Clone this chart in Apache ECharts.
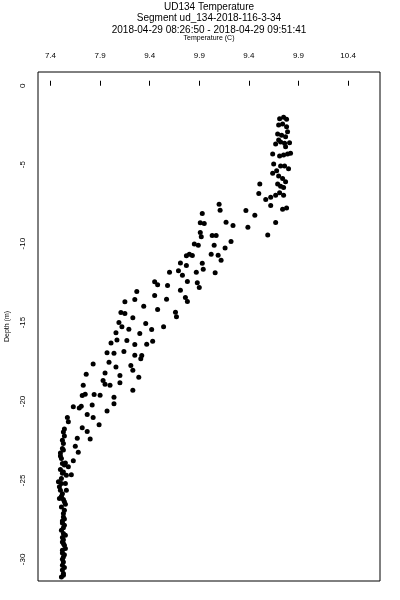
<!DOCTYPE html>
<html>
<head>
<meta charset="utf-8">
<script src="https://cdn.jsdelivr.net/npm/echarts@6/dist/echarts.min.js"></script>
<style>html,body{margin:0;padding:0;background:#fff}#c{width:400px;height:600px}</style>
</head>
<body>
<div id="c"></div>
<script>
var titleLines = ['UD134 Temperature', 'Segment ud_134-2018-116-3-34', '2018-04-29 08:26:50 - 2018-04-29 09:51:41'];
var xName = 'Temperature (C)';
var yName = 'Depth (m)';
var xTickValues = [7.4, 7.9, 8.4, 8.9, 9.4, 9.9, 10.4];
var xTickLabels = ['7.4', '7.9', '9.4', '9.9', '9.4', '9.9', '10.4'];
var yTickValues = [0, -5, -10, -15, -20, -25, -30];
var xRange = [7.274, 10.722];
var yRange = [-31.37, 0.87];

var temperature = [
9.71,9.75,9.78,9.70,9.74,9.78,9.79,9.69,9.73,9.77,9.70,9.67,9.72,9.76,9.81,9.77,9.64,9.71,9.75,9.79,9.82,
9.65,9.72,9.76,9.80,9.68,9.64,9.70,9.74,9.77,9.69,9.72,9.75,9.51,9.50,9.57,9.62,9.67,9.71,9.75,9.62,9.74,9.78,
9.37,9.46,9.67,9.39,9.59,
9.10,9.11,8.93,8.91,8.95,9.17,9.24,8.91,8.92,9.03,9.07,9.22,8.85,8.89,9.05,9.16,8.77,8.80,8.83,9.02,9.09,9.12,
8.71,8.77,8.93,8.94,9.06,8.60,8.69,8.73,8.87,8.45,8.48,8.58,8.78,8.88,8.90,8.71,8.45,8.57,8.76,8.78,8.48,8.66,8.67,8.54,8.42,
8.27,8.15,8.25,8.34,8.11,8.15,8.23,8.09,8.12,8.19,8.36,8.30,8.06,8.07,8.17,8.25,8.37,8.43,8.01,7.97,8.04,8.14,8.25,8.32,8.31,
7.83,7.99,8.21,8.23,8.06,7.95,8.10,8.29,7.76,7.93,7.95,8.00,8.10,7.73,8.23,7.72,7.75,7.84,7.90,8.04,8.04,7.82,7.63,7.69,7.71,
7.97,7.77,7.83,7.57,7.58,7.89,7.54,7.72,7.77,7.54,7.67,7.80,7.53,
7.65,7.68,7.53,7.52,7.50,7.51,7.55,7.52,7.63,7.58,7.50,7.53,7.56,7.61,7.51,7.48,7.51,7.55,7.50,7.56,7.49,7.53,7.55,7.51,7.54,
7.53,7.52,7.54,7.51,7.53,7.55,7.52,7.54,7.52,7.55,7.53,7.53,7.52,7.53,7.51,
7.52,7.53,7.50,7.54,7.52,7.49,7.52,7.51,7.54,7.53,7.54,7.52,7.53,7.52,7.53,7.53,7.52,7.54,7.52,7.54,7.52,7.53
];
var depth = [
-2.09,-2.00,-2.13,-2.49,-2.43,-2.60,-2.92,-3.06,-3.14,-3.23,-3.44,-3.69,-3.57,-3.65,-3.61,-3.87,-4.33,-4.45,-4.39,-4.33,-4.28,
-4.96,-5.09,-5.09,-5.26,-5.39,-5.55,-5.72,-5.87,-6.08,-6.23,-6.36,-6.44,-6.23,-6.83,-7.20,-7.07,-6.93,-6.78,-6.93,-7.58,-7.83,-7.75,
-7.90,-8.21,-8.66,-8.97,-9.45,
-7.50,-7.88,-8.09,-8.68,-8.72,-8.64,-8.85,-9.29,-9.57,-9.48,-9.48,-9.86,-10.03,-10.11,-10.11,-10.27,-10.77,-10.67,-10.75,-10.67,-10.73,-11.05,
-11.22,-11.38,-11.24,-11.63,-11.85,-11.81,-11.72,-12.01,-11.82,-12.42,-12.61,-12.65,-12.40,-12.48,-12.78,-12.95,-13.28,-13.52,-13.41,-13.66,-14.17,-14.34,-14.63,-15.27,-15.44,
-13.03,-13.69,-13.54,-13.96,-14.36,-14.42,-14.70,-14.99,-15.27,-15.42,-15.06,-15.69,-15.65,-16.11,-16.13,-16.39,-16.37,-16.18,-16.29,-16.92,-16.94,-16.83,-17.07,-17.08,-17.30,
-17.62,-17.51,-17.72,-18.02,-17.81,-18.19,-18.35,-18.46,-18.27,-18.67,-18.90,-18.97,-18.82,-18.97,-19.28,-19.62,-19.54,-19.56,-19.60,-19.73,-20.15,-20.23,-20.34,-20.42,-20.30,
-20.61,-20.82,-21.01,-21.01,-21.29,-21.48,-21.74,-21.67,-21.90,-22.18,-22.33,-22.37,-21.93,
-22.83,-23.21,-22.66,-22.98,-23.26,-23.61,-23.89,-23.93,-23.76,-24.14,-24.31,-24.46,-24.67,-24.64,-24.88,-25.09,-25.20,-25.20,-25.62,-25.62,-26.15,-26.21,-26.51,-26.68,-26.89,
-27.31,-27.57,-27.84,-28.16,-28.36,-28.47,-28.90,-29.11,-29.42,-29.31,-29.85,-30.16,-30.37,-30.90,-31.11,
-22.45,-23.08,-23.45,-24.02,-24.55,-25.40,-25.85,-26.00,-26.35,-27.10,-27.45,-27.70,-28.00,-28.62,-28.75,-29.00,-29.60,-29.70,-30.00,-30.52,-30.68,-31.00
];

var FONT = '"Liberation Sans", Arial, Helvetica, sans-serif';
var points = temperature.map(function (t, i) { return [t, depth[i]]; });

var chart = echarts.init(document.getElementById('c'), null, {renderer: 'canvas'});
chart.setOption({
  animation: false,
  backgroundColor: '#ffffff',
  title: {
    text: titleLines.join('\n'),
    left: 209,
    top: 1,
    padding: 0,
    textAlign: 'center',
    textStyle: {fontFamily: FONT, fontSize: 10, fontWeight: 'normal', color: '#000', lineHeight: 11.8}
  },
  grid: {left: 38, top: 72, width: 342, height: 509, show: true, borderColor: '#000', borderWidth: 1, backgroundColor: 'transparent', containLabel: false, outerBoundsMode: 'none'},
  xAxis: {
    type: 'value',
    position: 'top',
    min: xRange[0],
    max: xRange[1],
    offset: 5,
    name: xName,
    nameLocation: 'middle',
    nameGap: 25,
    nameTextStyle: {fontFamily: FONT, fontSize: 7, color: '#000'},
    axisLine: {show: false},
    axisTick: {show: true, length: 5, inside: false, customValues: xTickValues, lineStyle: {color: '#000', width: 1}},
    axisLabel: {
      customValues: xTickValues,
      margin: 7,
      fontFamily: FONT, fontSize: 8, color: '#000',
      formatter: function (v) {
        for (var i = 0; i < xTickValues.length; i++) { if (Math.abs(v - xTickValues[i]) < 1e-6) return xTickLabels[i]; }
        return '';
      }
    },
    splitLine: {show: false}
  },
  yAxis: {
    type: 'value',
    min: yRange[0],
    max: yRange[1],
    name: yName,
    nameLocation: 'middle',
    nameGap: 27,
    nameTextStyle: {fontFamily: FONT, fontSize: 7, color: '#000'},
    axisLine: {show: false},
    axisTick: {show: false},
    axisLabel: {
      customValues: yTickValues,
      rotate: 90,
      margin: 11,
      fontFamily: FONT, fontSize: 8, color: '#000',
      formatter: function (v) { return String(Math.round(v)); }
    },
    splitLine: {show: false}
  },
  series: [{
    type: 'scatter',
    data: points,
    symbol: 'circle',
    symbolSize: 5,
    itemStyle: {color: '#000', opacity: 1},
    silent: true
  }]
});
</script>
</body>
</html>
